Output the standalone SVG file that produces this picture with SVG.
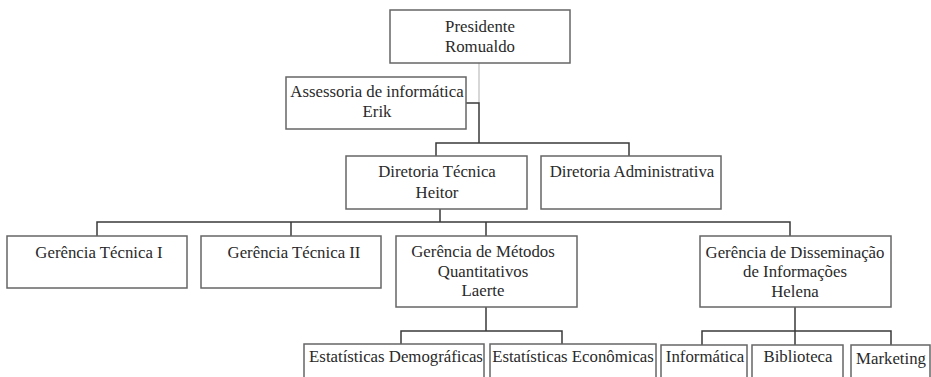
<svg xmlns="http://www.w3.org/2000/svg" width="931" height="377" viewBox="0 0 931 377">
<style>
.box{fill:#fff;stroke:#666;stroke-width:1.5}
.t{font-family:"Liberation Serif","Times New Roman",serif;font-size:16.8px;fill:#2a2a2a;text-anchor:middle}
.c{fill:none;stroke:#3a3a3a;stroke-width:1.5}
.cl{fill:none;stroke:#bdbdbd;stroke-width:1.2}
</style>
<rect width="931" height="377" fill="#fff"/>
<g id="connectors">
<path class="cl" d="M479 63V103"/>
<path class="c" d="M466 103H479V143M436 156V143H629V156"/>
<path class="c" d="M440 209V222M97 236V222H790V236M291 222V236M486 222V236"/>
<path class="c" d="M486 307V331M401 344V331H562V344"/>
<path class="c" d="M795 307V345M702 345V331H891V345"/>
</g>
<g id="presidente"><rect class="box" x="390" y="10" width="180" height="53"/><text class="t" x="480" y="32">Presidente</text><text class="t" x="480" y="52">Romualdo</text></g>
<g id="assessoria"><rect class="box" x="286" y="77" width="180" height="52"/><text class="t" x="377" y="97">Assessoria de informática</text><text class="t" x="377" y="117">Erik</text></g>
<g id="diretoria-tecnica"><rect class="box" x="346" y="156" width="181" height="53"/><text class="t" x="437" y="177">Diretoria Técnica</text><text class="t" x="437" y="198">Heitor</text></g>
<g id="diretoria-administrativa"><rect class="box" x="541" y="156" width="180" height="53"/><text class="t" x="632" y="177">Diretoria Administrativa</text></g>
<g id="gerencia-tecnica-1"><rect class="box" x="7" y="236" width="180" height="52"/><text class="t" x="99" y="258">Gerência Técnica I</text></g>
<g id="gerencia-tecnica-2"><rect class="box" x="201" y="236" width="180" height="52"/><text class="t" x="294" y="258">Gerência Técnica II</text></g>
<g id="gerencia-metodos"><rect class="box" x="396" y="236" width="181" height="71"/><text class="t" x="483" y="257">Gerência de Métodos</text><text class="t" x="483" y="277">Quantitativos</text><text class="t" x="483" y="296">Laerte</text></g>
<g id="gerencia-disseminacao"><rect class="box" x="700" y="236" width="191" height="71"/><text class="t" x="795" y="258">Gerência de Disseminação</text><text class="t" x="795" y="277">de Informações</text><text class="t" x="795" y="297">Helena</text></g>
<g id="estatisticas-demograficas"><rect class="box" x="304" y="344" width="180" height="40"/><text class="t" x="396" y="362">Estatísticas Demográficas</text></g>
<g id="estatisticas-economicas"><rect class="box" x="490" y="344" width="166" height="40"/><text class="t" x="573" y="362">Estatísticas Econômicas</text></g>
<g id="informatica"><rect class="box" x="661" y="345" width="86" height="40"/><text class="t" x="705" y="362">Informática</text></g>
<g id="biblioteca"><rect class="box" x="752" y="345" width="91" height="40"/><text class="t" x="798" y="362">Biblioteca</text></g>
<g id="marketing"><rect class="box" x="851" y="345" width="79" height="40"/><text class="t" x="891" y="364">Marketing</text></g>
</svg>
